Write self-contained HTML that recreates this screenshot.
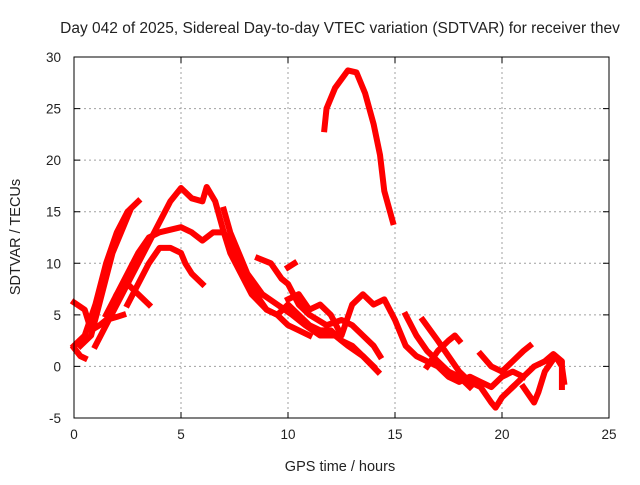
<!DOCTYPE html>
<html><head><meta charset="utf-8"><style>
body{margin:0;background:#fff;}
svg text{font-family:"Liberation Sans",sans-serif;fill:#222;}
</style></head><body>
<svg id="chart" width="640" height="480" xmlns="http://www.w3.org/2000/svg">
<text x="340" y="33" font-size="15.5" text-anchor="middle">Day 042 of 2025, Sidereal Day-to-day VTEC variation (SDTVAR) for receiver thev</text>
<text x="340" y="471" font-size="14.5" text-anchor="middle">GPS time / hours</text>
<text transform="translate(20,237) rotate(-90)" font-size="14.5" text-anchor="middle">SDTVAR / TECUs</text>
<g id="grid"></g><g id="series"></g><g id="axes"></g>
</svg>
<script>
const xTicks=[0,5,10,15,20,25];
const yTicks=[-5,0,5,10,15,20,25,30];
const seriesA=[[11.7,23],[11.8,25],[12.2,27],[12.8,28.7],[13.2,28.5],[13.6,26.5],[14,23.5],[14.3,20.5],[14.5,17],[14.7,15.5],[14.9,14]];
const seriesB=[[0,2],[0.5,3],[1,6],[1.5,10],[2,13],[2.5,15],[3,16]];
const seriesC=[[0.3,2],[0.8,3],[1.3,7],[1.8,11],[2.2,13],[2.6,15]];
const seriesD=[[1,2],[1.5,4],[2.5,8],[3,10],[3.5,12],[4,14],[4.5,16],[5,17.3],[5.5,16.3],[6,16],[6.2,17.4],[6.6,16],[7,13],[7.5,11],[8,9],[8.5,7],[9,5.5],[9.5,5],[10,6],[10.5,5],[11,4],[11.5,3.5],[12,3.5],[12.5,2.5],[13,2],[13.5,1],[14,0]];
const seriesE=[[2,7],[2.5,9],[3,11],[3.5,12.5],[4,13],[5,13.5],[5.5,13],[6,12.2],[6.5,13],[7,13],[7.3,11],[7.8,9],[8.3,7],[9,5.5],[9.5,5],[10,4],[10.5,3.5],[11,3]];
const seriesF=[[2.5,6],[3,8],[3.5,10],[4,11.5],[4.5,11.5],[5,11],[5.2,10],[5.5,9],[6,8]];
const seriesG=[[1.5,5],[2,7],[2.5,8],[3,7],[3.5,6]];
const seriesH=[[0,6.2],[0.5,5.5],[0.8,3.5],[1.2,4],[1.5,4.5],[2,4.8],[2.3,5]];
const seriesI=[[0,1.8],[0.3,1],[0.5,0.8]];
const seriesJ=[[7,15.2],[7.3,13],[7.7,11],[8.1,9],[8.8,7],[9.5,6],[10.2,5],[10.8,4],[11.5,3],[12.2,3],[12.8,2],[13.5,1],[14.2,-0.5]];
const seriesK=[[8.6,10.5],[9.2,10],[9.7,8.5],[10,8],[10.5,6],[11,5],[11.8,4],[12.5,4.5],[13,4],[13.5,3],[14,2],[14.3,1]];
const seriesK2=[[10,9.6],[10.3,10]];
const seriesL=[[10,6.5],[10.5,7],[11,5.5],[11.5,6],[12,5],[12.5,3],[13,6],[13.5,7],[14,6],[14.5,6.5],[15,4.5],[15.5,2],[16,1],[16.5,0.5],[17,0],[17.5,-1],[18,-1.5],[18.5,-1],[19,-1.5],[19.5,-2],[20,-1],[20.5,-0.5],[21,-1]];
const seriesM=[[15.5,5],[16,3],[16.5,1.5],[17,0.5],[17.5,-0.5],[18,-1],[18.5,-2]];
const seriesN=[[16.3,4.5],[17,2.5],[17.5,1],[18,-0.5],[18.5,-1.5],[19,-2],[19.5,-3.5],[19.7,-4],[20,-3],[20.5,-2]];
const seriesO=[[16.5,0],[17,1.5],[17.5,2.5],[17.8,3],[18,2.5]];
const seriesP=[[19,1.2],[19.5,0],[20,-0.5],[20.5,0.5],[21,1.5],[21.3,2]];
const seriesQ=[[21,-2],[21.5,-3.5],[21.7,-2.5],[22,-0.5],[22.5,1],[22.8,0],[22.9,-1.5]];
const seriesR=[[20.5,-2],[21,-1],[21.5,0],[22,0.5],[22.4,1.2],[22.8,0.5],[22.8,-2]];
const allSeries=[seriesA,seriesB,seriesC,seriesD,seriesE,seriesF,seriesG,seriesH,seriesI,seriesJ,seriesK,seriesK2,seriesL,seriesM,seriesN,seriesO,seriesP,seriesQ,seriesR];
const X0=74,X1=609,Y0=418,Y1=57;
function sx(v){return X0+(v-0)/(25-0)*(X1-X0);}
function sy(v){return Y0-(v+5)/(35)*(Y0-Y1);}
const NS="http://www.w3.org/2000/svg";
function mk(t,a,p){const e=document.createElementNS(NS,t);for(const k in a)e.setAttribute(k,a[k]);p.appendChild(e);return e;}
const grid=document.getElementById('grid'),axes=document.getElementById('axes'),ser=document.getElementById('series');
xTicks.forEach(t=>{
 if(t>0&&t<25){const l=mk('line',{x1:sx(t),x2:sx(t),y1:Y1,y2:Y0,stroke:'#a0a0a0','stroke-dasharray':'2,3'},grid);
 
 }
 const tk=mk('path',{d:`M${sx(t)},${Y0}v-6M${sx(t)},${Y1}v6`,stroke:'#000'},axes);
 
 
 const tx=mk('text',{x:sx(t),y:Y0+21,'font-size':13.5,'text-anchor':'middle'},axes);tx.textContent=t;
 
 
});
yTicks.forEach(t=>{
 if(t>-5&&t<30){const l=mk('line',{x1:X0,x2:X1,y1:sy(t),y2:sy(t),stroke:'#a0a0a0','stroke-dasharray':'2,3'},grid);
 
 }
 const tk=mk('path',{d:`M${X0},${sy(t)}h6M${X1},${sy(t)}h-6`,stroke:'#000'},axes);
 
 
 const tx=mk('text',{x:X0-13,y:sy(t)+5,'font-size':13.5,'text-anchor':'end'},axes);tx.textContent=t;
 
 
});
const fr=mk('rect',{x:X0,y:Y1,width:X1-X0,height:Y0-Y1,fill:'none',stroke:'#000'},axes);


allSeries.forEach(s=>{
 const p=mk('polyline',{points:s.map(d=>sx(d[0])+','+sy(d[1])).join(' '),fill:'none',stroke:'#ff0000','stroke-width':6,'stroke-linejoin':'round','stroke-linecap':'square'},ser);
 
 
});
</script>
</body></html>
